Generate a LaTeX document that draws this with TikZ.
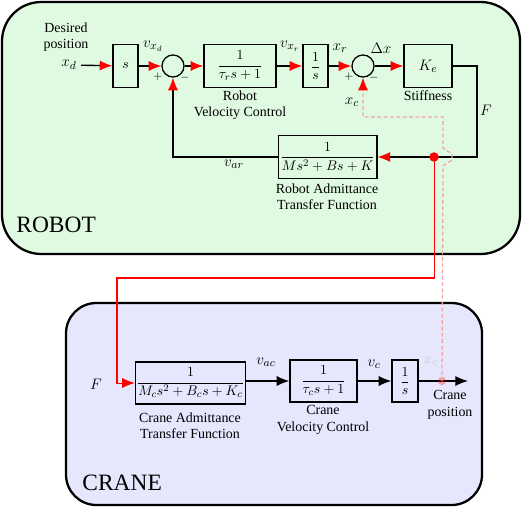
\documentclass[tikz,border=0pt]{standalone}
\usepackage{amsmath}
\usepackage{fontspec}
\setmainfont{Liberation Serif}
\usetikzlibrary{arrows.meta}
\usetikzlibrary{calc}

\definecolor{robotbg}{RGB}{224,250,225}
\definecolor{cranebg}{RGB}{230,230,252}
\definecolor{feedpink}{RGB}{240,165,160}

\begin{document}
\begin{tikzpicture}[x=0.79pt,y=-0.79pt,
	font=\fontsize{11}{13}\selectfont,
	block/.style={draw=black, line width=1pt, inner sep=1pt, minimum height=34pt},
	sumnode/.style={draw=black, line width=1pt, circle, minimum size=17.4pt, inner sep=0pt},
	sig/.style={line width=1.1pt, -{Latex[color=red,length=10pt,width=8pt]}},
	csig/.style={line width=1.1pt, -{Latex[length=10pt,width=8pt]}},
	mlbl/.style={font=\fontsize{13}{15}\selectfont},
	sgn/.style={font=\fontsize{9}{10}\selectfont},
	lbl/.style={align=center}]

	% fixed picture size
	\useasboundingbox (0,0) rectangle (523,507);

	% robot and crane regions
	\filldraw[robotbg, draw=black, line width=1.8pt, rounded corners=31pt] (2,2) rectangle (520,254);
	\filldraw[cranebg, draw=black, line width=1.8pt, rounded corners=24pt] (66,303) rectangle (482,505);
	\node[anchor=west, font=\fontsize{18.5}{21}\selectfont] (robotlbl) at (12,225) {ROBOT};
	\node[anchor=west, font=\fontsize{18.5}{21}\selectfont] (cranelbl) at (78,483) {CRANE};

	% robot blocks
	\node[block, minimum width=19.75pt] (dcmd) at (125.5,66) {$s$};
	\node[sumnode] (sumr) at (173,66) {};
	\node[block, minimum width=57pt] (velr) at (240,66) {$\dfrac{1}{\tau_r s+1}$};
	\node[block, minimum width=19.75pt] (intr) at (315.5,66) {$\dfrac{1}{s}$};
	\node[sumnode] (sumx) at (363,66) {};
	\node[block, minimum width=38pt, font=\fontsize{12.5}{14}\selectfont] (stiff) at (428,66) {$K_e$};
	\node[block, minimum width=78pt] (admr) at (327.5,157) {$\dfrac{1}{Ms^2+Bs+K}$};

	% robot labels
	\node[lbl] (desired) at (66,37) {Desired\\position};
	\node[mlbl] (xd) at (69,65) {$x_d$};
	\node[mlbl] (vxd) at (153,46) {$v_{x_d}$};
	\node[sgn] (plusr) at (158,77) {$+$};
	\node[sgn] (minusr) at (185,78) {$-$};
	\node[lbl] (velrlbl) at (240,105) {Robot\\Velocity Control};
	\node[mlbl] (vxr) at (290,46) {$v_{x_r}$};
	\node[mlbl] (xr) at (340,48) {$x_r$};
	\node[sgn] (plusx) at (349,77) {$+$};
	\node[sgn] (minusx) at (374,78) {$-$};
	\node[mlbl] (dx) at (381,48) {$\Delta x$};
	\node (stifflbl) at (428,96) {Stiffness};
	\node[mlbl] (xc) at (352,102) {$x_c$};
	\node[mlbl] (flbl) at (486,110) {$F$};
	\node[mlbl] (var) at (234,164) {$v_{ar}$};
	\node[lbl] (admrlbl) at (327,197) {Robot Admittance\\Transfer Function};

	% robot signal lines
	\coordinate (fturn1) at (477,66);
	\coordinate (fturn2) at (477,157);
	\draw[sig] (xd) -- (dcmd);
	\draw[sig] (dcmd) -- (sumr);
	\draw[sig] (sumr) -- (velr);
	\draw[sig] (velr) -- (intr);
	\draw[sig] (intr) -- (sumx);
	\draw[sig] (sumx) -- (stiff);
	\draw[sig] (stiff.east) -- (fturn1) -- (fturn2) -- (admr.east);
	\draw[sig] (admr.west) -| (sumr.south);

	% crane blocks
	\node[block, minimum width=84.5pt, minimum height=33pt] (admc) at (190.5,383) {$\dfrac{1}{M_cs^2+B_cs+K_c}$};
	\node[block, minimum width=53pt, minimum height=33pt] (velc) at (323.5,381) {$\dfrac{1}{\tau_c s+1}$};
	\node[block, minimum width=20.5pt, minimum height=33pt] (intc) at (405,381) {$\dfrac{1}{s}$};
	\coordinate (cout) at (468,381);

	% crane labels
	\node[mlbl] (fc) at (96,384) {$F$};
	\node[lbl] (admclbl) at (190,426) {Crane Admittance\\Transfer Function};
	\node[mlbl] (vac) at (266,362) {$v_{ac}$};
	\node[lbl] (velclbl) at (323,420) {Crane\\Velocity Control};
	\node[mlbl] (vc) at (374,364) {$v_c$};
	\node[mlbl, opacity=0.12] (xcfaint) at (431,361) {$x_c$};
	\node[lbl] (cposlbl) at (450,405) {Crane\\position};

	% crane signal lines
	\draw[csig] (admc.east |- velc.west) -- (velc);
	\draw[csig] (velc) -- (intc);
	\draw[csig] (intc) -- (cout);

	% force tap from robot to crane
	\node[circle, fill=red, inner sep=0pt, minimum size=7.5pt] (tap) at (434,157) {};
	\coordinate (rjog1) at (434,278);
	\coordinate (rjog2) at (117,278);
	\draw[red, line width=0.8pt, -{Latex[color=red,length=10pt,width=8pt]}] (tap.center) -- (rjog1) -- (rjog2) |- (admc.west);

	% crane position fed back (dashed, hops over F line)
	\node[circle, fill=red, opacity=0.3, inner sep=0pt, minimum size=6.5pt] (cpos) at (442,381) {};
	\draw[feedpink, line width=1pt, dash pattern=on 3pt off 2pt, -{Latex[color=red,length=10pt,width=8pt]}]
		(cpos.center) -- (443,166) -- (452,160) -- (452,154) -- (443,148) -- (443,117) -| (sumx.south);

\end{tikzpicture}
\end{document}
